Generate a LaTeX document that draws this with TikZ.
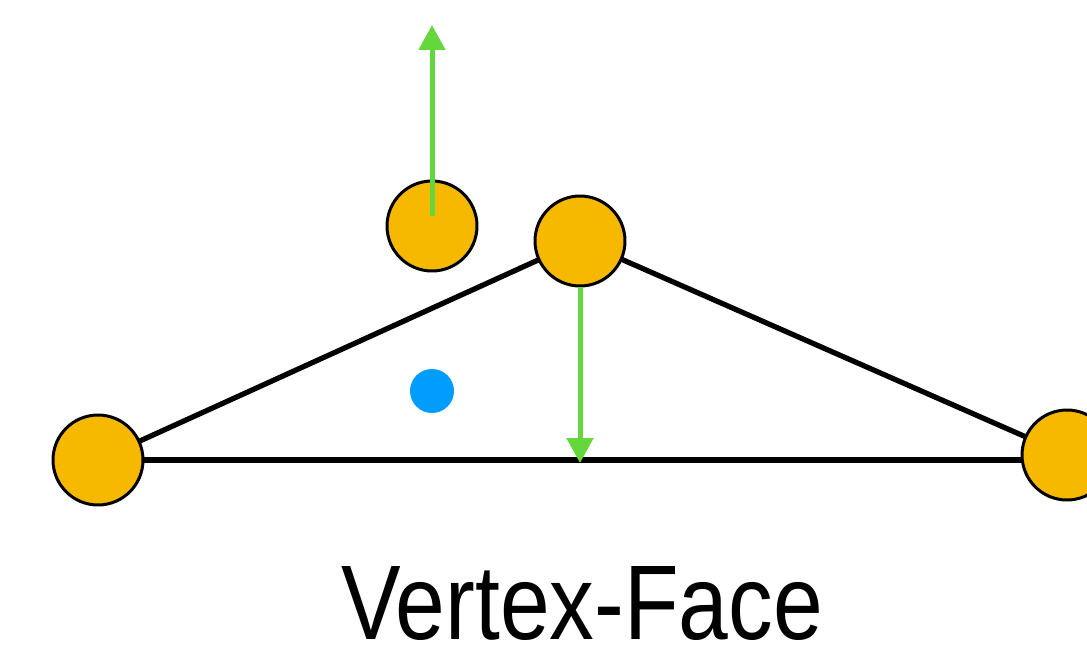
\documentclass[tikz,border=0pt]{standalone}
\usepackage{fontspec}
\setmainfont{Liberation Sans}
\usetikzlibrary{arrows.meta}
\definecolor{vorange}{RGB}{247,185,0}
\definecolor{vblue}{RGB}{0,157,255}
\definecolor{vgreen}{RGB}{100,215,60}
\tikzset{
  vert/.style={circle, draw=black, line width=1.7pt, fill=vorange, minimum size=1.8cm, inner sep=0pt},
  edge/.style={draw=black, line width=3pt},
  normal/.style={draw=vgreen, line width=2.85pt, -{Triangle[width=0.52cm,length=0.5cm]}},
}
\begin{document}
\begin{tikzpicture}[x=0.02cm,y=-0.02cm]
\useasboundingbox (0,0) rectangle (1087,646);
\coordinate (Lc) at (98,460);
\coordinate (Tc) at (580,241);
\coordinate (Rc) at (1067,455);
\draw[edge] (Lc) -- (Tc) -- (Rc);
\node[vert] (L) at (Lc) {};
\node[vert] (T) at (Tc) {};
\node[vert] (R) at (Rc) {};
\node[vert] (P) at (432,226) {};
\draw[edge] (L.east) -- (L.east -| R.west);
\node[circle, fill=vblue, minimum size=0.88cm, inner sep=0pt] (B) at (432,391) {};
\coordinate (Ptop) at (432,25);
\coordinate (Tbot) at (580,463);
\draw[normal] ([yshift=0.2cm]P.center) -- (Ptop);
\draw[normal] (T.south) -- (Tbot);
\node[anchor=base, inner sep=0pt, xscale=0.842, font=\fontsize{60.4pt}{70pt}\selectfont] (lbl) at (582,639) {Vertex-Face};
\end{tikzpicture}
\end{document}
